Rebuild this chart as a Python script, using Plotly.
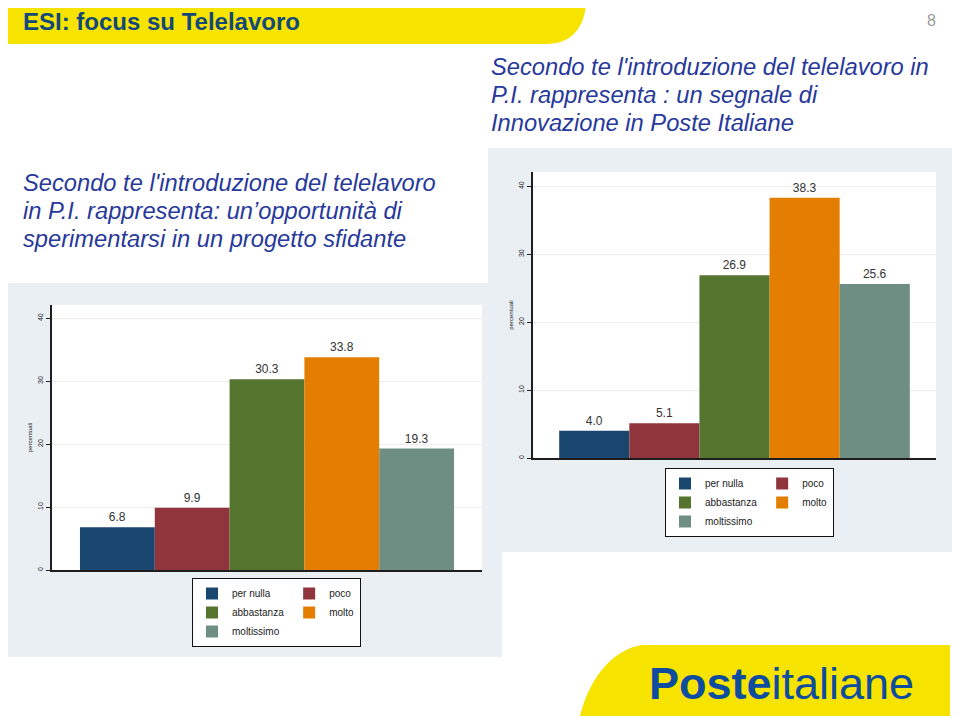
import plotly.graph_objects as go

W, H = 960, 716
OFF = 8  # page body margin in the browser; layout is measured in window pixels

# ---------------- data ----------------
categories = ["per nulla", "poco", "abbastanza", "molto", "moltissimo"]
bar_colors = ["#1a476f", "#90353b", "#55752f", "#e37e00", "#6e8e84"]
opportunita_values = [6.8, 9.9, 30.3, 33.8, 19.3]   # left chart
innovazione_values = [4.0, 5.1, 26.9, 38.3, 25.6]   # right chart
y_tick_values = [0, 10, 20, 30, 40]
y_axis_title = "percentuali"

slide_title = "ESI: focus su Telelavoro"
page_number = "8"
right_question = ["Secondo te l'introduzione del telelavoro in",
                  "P.I. rappresenta : un segnale di",
                  "Innovazione in Poste Italiane"]
left_question = ["Secondo te l'introduzione del telelavoro",
                 "in P.I. rappresenta: un\u2019opportunit\u00e0 di",
                 "sperimentarsi in un progetto sfidante"]

FONT = "Liberation Sans, Arial, sans-serif"


def px(x):
    return (x - OFF) / W


def py(y):
    return 1 - (y - OFF) / H


def pt(x, y):
    return f"{px(x):.5f},{py(y):.5f}"


left_dom_x = [px(52), px(482)]
left_dom_y = [py(570), py(305)]
right_dom_x = [px(533), px(936)]
right_dom_y = [py(458), py(172)]

fig = go.Figure()

for values, xa, ya, leg, grp in [
    (opportunita_values, "x", "y", "legend", "L"),
    (innovazione_values, "x2", "y2", "legend2", "R"),
]:
    for i, (cat, col) in enumerate(zip(categories, bar_colors)):
        fig.add_trace(go.Bar(
            x=[0], y=[values[i]], name=cat,
            marker=dict(color=col, line=dict(width=0)),
            texttemplate="%{y:.1f}", textposition="outside",
            textfont=dict(size=12, color="#333333", family=FONT),
            cliponaxis=False, xaxis=xa, yaxis=ya, legend=leg,
            legendgroup=f"{grp}{i % 2}", showlegend=True,
            hovertemplate=cat + ": %{y:.1f}<extra></extra>",
        ))

axis_line = dict(showline=True, linecolor="#1e1e1e", linewidth=1.5)


def xaxis_cfg(dom, anchor):
    return dict(domain=dom, anchor=anchor, range=[-0.5, 0.5], showticklabels=False,
                ticks="", showgrid=False, zeroline=False, fixedrange=True, **axis_line)


def yaxis_cfg(dom, anchor):
    return dict(domain=dom, anchor=anchor, range=[0, 42.1], tickvals=y_tick_values,
                tickangle=-90, ticks="outside", ticklen=4, tickwidth=1, tickcolor="#1e1e1e",
                tickfont=dict(size=7, color="#222222", family=FONT),
                showgrid=True, gridcolor="#ececec", gridwidth=1, zeroline=False,
                fixedrange=True,
                title=dict(text=y_axis_title, font=dict(size=6, color="#222222", family=FONT),
                           standoff=4),
                **axis_line)


legend_common = dict(orientation="h", traceorder="grouped", xanchor="left", yanchor="top",
                     bgcolor="white", bordercolor="#111111", borderwidth=1,
                     font=dict(size=10, color="#222222", family=FONT),
                     itemwidth=30, tracegroupgap=0)

shapes = [
    # grey graph regions
    dict(type="rect", xref="paper", yref="paper", x0=px(5), x1=px(502), y0=py(657), y1=py(283),
         fillcolor="#e9eff2", line=dict(width=0), layer="below"),
    dict(type="rect", xref="paper", yref="paper", x0=px(488), x1=px(955), y0=py(552), y1=py(148),
         fillcolor="#e9eff2", line=dict(width=0), layer="below"),
    # white plot regions
    dict(type="rect", xref="paper", yref="paper", x0=left_dom_x[0], x1=left_dom_x[1],
         y0=left_dom_y[0], y1=left_dom_y[1], fillcolor="white", line=dict(width=0), layer="below"),
    dict(type="rect", xref="paper", yref="paper", x0=right_dom_x[0], x1=right_dom_x[1],
         y0=right_dom_y[0], y1=right_dom_y[1], fillcolor="white", line=dict(width=0), layer="below"),
    # header banner
    dict(type="path", xref="paper", yref="paper",
         path=f"M {pt(5, 0)} L {pt(586, 0)} C {pt(586, 24)} {pt(574, 44)} {pt(546, 44)} L {pt(5, 44)} Z",
         fillcolor="#f6e400", line=dict(width=0), layer="below"),
    # logo band
    dict(type="path", xref="paper", yref="paper",
         path=f"M {pt(950, 645)} L {pt(642, 645)} C {pt(610, 650)} {pt(588, 682)} {pt(580, 716)} L {pt(950, 716)} Z",
         fillcolor="#f6e400", line=dict(width=0), layer="below"),
    # slide edge
    dict(type="line", xref="paper", yref="paper", x0=px(956), x1=px(956), y0=py(716), y1=py(0),
         line=dict(color="#e2e2e2", width=1), layer="below"),
]

annotations = [
    dict(text=f"<b>{slide_title}</b>", x=px(21), y=py(21), xanchor="left", yanchor="middle",
         font=dict(size=24, color="#12497a", family=FONT)),
    dict(text=page_number, x=px(931), y=py(20), xanchor="center", yanchor="middle",
         font=dict(size=16, color="#9a9a9a", family=FONT)),
    dict(text="<b>Poste</b>italiane", x=px(647), y=py(683), xanchor="left", yanchor="middle",
         font=dict(size=45, color="#0d4c9e", family=FONT)),
]
for k, line in enumerate(right_question):
    annotations.append(dict(text=line, x=px(489), y=py(67 + 28 * k), xanchor="left", yanchor="middle",
                            font=dict(size=23.7, color="#27399a", family=FONT, style="italic")))
for k, line in enumerate(left_question):
    annotations.append(dict(text=line, x=px(21), y=py(183 + 28 * k), xanchor="left", yanchor="middle",
                            font=dict(size=23.7, color="#27399a", family=FONT, style="italic")))
for a in annotations:
    a.update(xref="paper", yref="paper", showarrow=False)

fig.update_layout(
    width=W, height=H, margin=dict(l=0, r=0, t=0, b=0),
    paper_bgcolor="white", plot_bgcolor="white",
    barmode="group", bargap=0.13, bargroupgap=0,
    xaxis=xaxis_cfg(left_dom_x, "y"), yaxis=yaxis_cfg(left_dom_y, "x"),
    xaxis2=xaxis_cfg(right_dom_x, "y2"), yaxis2=yaxis_cfg(right_dom_y, "x2"),
    legend=dict(x=px(192), y=py(578), **legend_common),
    legend2=dict(x=px(665), y=py(468), **legend_common),
    shapes=shapes, annotations=annotations,
    font=dict(family=FONT),
)

fig.write_html("out.html")
